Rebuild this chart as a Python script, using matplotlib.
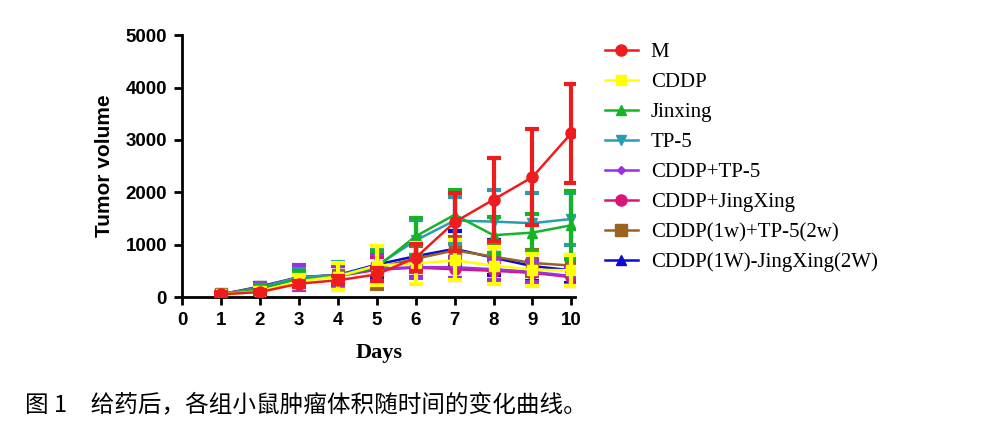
import matplotlib.pyplot as plt

days = [1, 2, 3, 4, 5, 6, 7, 8, 9, 10]

m = [50, 95, 255, 320, 430, 750, 1430, 1860, 2290, 3130]
m_err = [40, 40, 60, 80, 120, 260, 560, 790, 920, 945]

cddp = [50, 110, 300, 390, 600, 640, 700, 600, 520, 510]
cddp_err = [30, 60, 120, 250, 380, 400, 380, 360, 310, 300]

jinxing = [50, 160, 340, 390, 570, 1160, 1570, 1180, 1230, 1370]
jinxing_err = [30, 60, 150, 250, 300, 350, 480, 350, 360, 650]

tp5 = [50, 170, 380, 410, 600, 1080, 1460, 1440, 1410, 1490]
tp5_err = [30, 60, 150, 250, 300, 400, 450, 600, 570, 500]

cddp_tp5 = [50, 180, 380, 410, 540, 570, 570, 530, 480, 400]
cddp_tp5_err = [30, 60, 240, 200, 280, 200, 200, 200, 200, 180]

cddp_jx = [50, 170, 360, 400, 520, 560, 530, 500, 460, 380]
cddp_jx_err = [30, 60, 150, 200, 250, 180, 200, 200, 200, 170]

cddp_tp5_2w = [50, 190, 370, 420, 560, 730, 890, 770, 650, 600]
cddp_tp5_2w_err = [30, 60, 150, 200, 400, 250, 250, 250, 250, 200]

cddp_jx_2w = [50, 200, 380, 420, 620, 780, 920, 750, 590, 510]
cddp_jx_2w_err = [30, 60, 150, 220, 250, 250, 340, 330, 280, 250]

labels = ['M', 'CDDP', 'Jinxing', 'TP-5', 'CDDP+TP-5', 'CDDP+JingXing',
          'CDDP(1w)+TP-5(2w)', 'CDDP(1W)-JingXing(2W)']
series = [(m, m_err), (cddp, cddp_err), (jinxing, jinxing_err), (tp5, tp5_err),
          (cddp_tp5, cddp_tp5_err), (cddp_jx, cddp_jx_err),
          (cddp_tp5_2w, cddp_tp5_2w_err), (cddp_jx_2w, cddp_jx_2w_err)]
colors = ['#ee1c1c', '#ffff00', '#14b424', '#2a9cb0', '#9a30e0', '#dc1478',
          '#9a6420', '#0a0ad2']
markers = ['o', 's', '^', 'v', 'D', 'o', 's', '^']
msizes = [8, 7, 7, 7, 4, 8, 8, 7]

fig = plt.figure(figsize=(9.85, 4.32), dpi=100)
ax = fig.add_axes([0.185, 0.3125, 0.399, 0.606])

# M last so it sits on top
for i in reversed(range(len(series))):
    vals, err = series[i]
    z = 10 if i == 0 else (9 if i == 1 else 3 + (8 - i) * 0.1)
    ax.errorbar(days, vals, yerr=err, color=colors[i], marker=markers[i],
                markersize=msizes[i], linewidth=1.8, elinewidth=3,
                capsize=5, capthick=3, zorder=z, label=labels[i])

ax.set_xlim(0, 10.1)
ax.set_ylim(0, 5000)
ax.set_xticks(range(0, 11))
ax.set_yticks(range(0, 5001, 1000))
for s in ['top', 'right']:
    ax.spines[s].set_visible(False)
for s in ['left', 'bottom']:
    ax.spines[s].set_linewidth(2)
ax.tick_params(width=2, length=6, labelsize=13.5, pad=5)
for t in ax.get_xticklabels() + ax.get_yticklabels():
    t.set_fontweight('bold')
    t.set_family('Liberation Sans')

ax.set_ylabel('Tumor volume', fontsize=15, fontweight='bold',
              family='Liberation Sans', labelpad=8)
ax.set_xlabel('Days', fontsize=16, fontweight='bold', family='Liberation Serif',
              labelpad=10)

leg_handles = [plt.Line2D([], [], color=colors[i], marker=markers[i],
                          markersize=msizes[i], linewidth=1.8)
               for i in range(len(labels))]
fig.legend(leg_handles, labels, loc='upper left', bbox_to_anchor=(0.595, 0.945),
           frameon=False, prop={'family': 'Liberation Serif', 'size': 15},
           labelspacing=0.5, handlelength=1.6, handletextpad=0.6)

fig.text(0.025, 0.0625, '图 1　给药后，各组小鼠肿瘤体积随时间的变化曲线。',
         fontsize=17, va='center', family=['Noto Sans CJK SC', 'DejaVu Sans'])

fig.savefig('out.png', dpi=100)
